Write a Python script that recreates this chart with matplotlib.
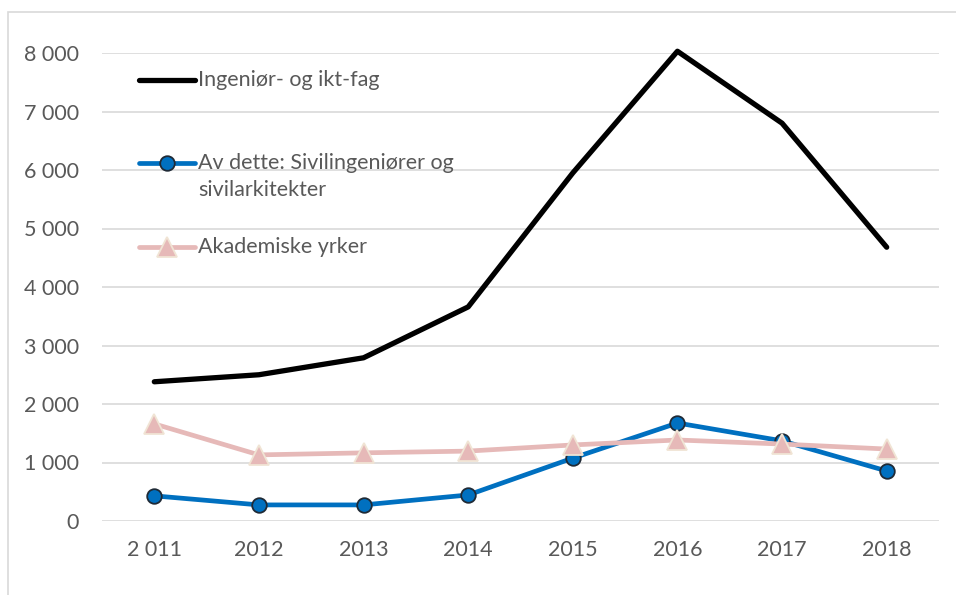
import matplotlib.pyplot as plt
from matplotlib.patches import Rectangle
from matplotlib.lines import Line2D

years = ['2 011', '2012', '2013', '2014', '2015', '2016', '2017', '2018']
ingenior = [2380, 2500, 2790, 3660, 5950, 8030, 6800, 4680]
sivil = [430, 275, 275, 445, 1075, 1675, 1370, 855]
akademisk = [1660, 1130, 1165, 1195, 1300, 1385, 1315, 1230]

labels = ['Ingeniør- og ikt-fag', 'Av dette: Sivilingeniører og\nsivilarkitekter', 'Akademiske yrker']

plt.rcParams['font.family'] = ['Lato', 'DejaVu Sans']
txt = '#595959'

fig = plt.figure(figsize=(9.56, 5.95), dpi=100)
fig.patches.append(Rectangle((8 / 956, -0.1), 1.2, 1 - 12 / 595 + 0.1, transform=fig.transFigure,
                             fill=False, edgecolor='#d9d9d9', linewidth=1.2))
ax = fig.add_axes([102 / 956, 1 - 521 / 595, (939 - 102) / 956, (521 - 53) / 595])

styles = [
    dict(color='black', lw=3.8, solid_capstyle='round'),
    dict(color='#0070c0', lw=3.4, marker='o', markersize=10.5, markerfacecolor='#0070c0',
         markeredgecolor='#1f2a36', markeredgewidth=1.3),
    dict(color='#e6b9b8', lw=3.4, marker='^', markersize=14, markerfacecolor='#e6b9b8',
         markeredgecolor='#f0e4d4', markeredgewidth=1.3),
]

x = list(range(len(years)))
for i, (vals, st) in enumerate(zip([ingenior, sivil, akademisk], styles)):
    ax.plot(x, vals, clip_on=False, zorder=3 + i, **st)

ax.set_xlim(-0.5, 7.5)
ax.set_ylim(0, 8000)
ax.set_yticks(range(0, 8001, 1000))
ax.set_yticklabels([f'{v:,}'.replace(',', ' ') for v in range(0, 8001, 1000)])
ax.set_xticks(x)
ax.set_xticklabels(years)
ax.grid(axis='y', color='#d9d9d9', lw=1.2)
ax.set_axisbelow(True)
for s in ax.spines.values():
    s.set_visible(False)
ax.tick_params(length=0, labelsize=15.5, labelcolor=txt)
ax.tick_params(axis='y', pad=16.5)
ax.tick_params(axis='x', pad=14)

# legend drawn by hand so the handle sits on the first line of a wrapped label
rows = [0.942, 0.765, 0.585]
for lab, st, yr in zip(labels, styles, rows):
    st = dict(st)
    st.pop('solid_capstyle', None)
    ax.add_line(Line2D([0.0442, 0.111], [yr, yr], transform=ax.transAxes, clip_on=False,
                       solid_capstyle='round', markevery=[], **st))
    if 'marker' in st:
        ax.add_line(Line2D([0.0776], [yr], transform=ax.transAxes, clip_on=False, **st))
    ax.text(0.1147, yr + 0.021, lab, transform=ax.transAxes, va='top', ha='left',
            fontsize=15.5, color=txt, linespacing=1.45)

fig.savefig('out.png', dpi=100)
